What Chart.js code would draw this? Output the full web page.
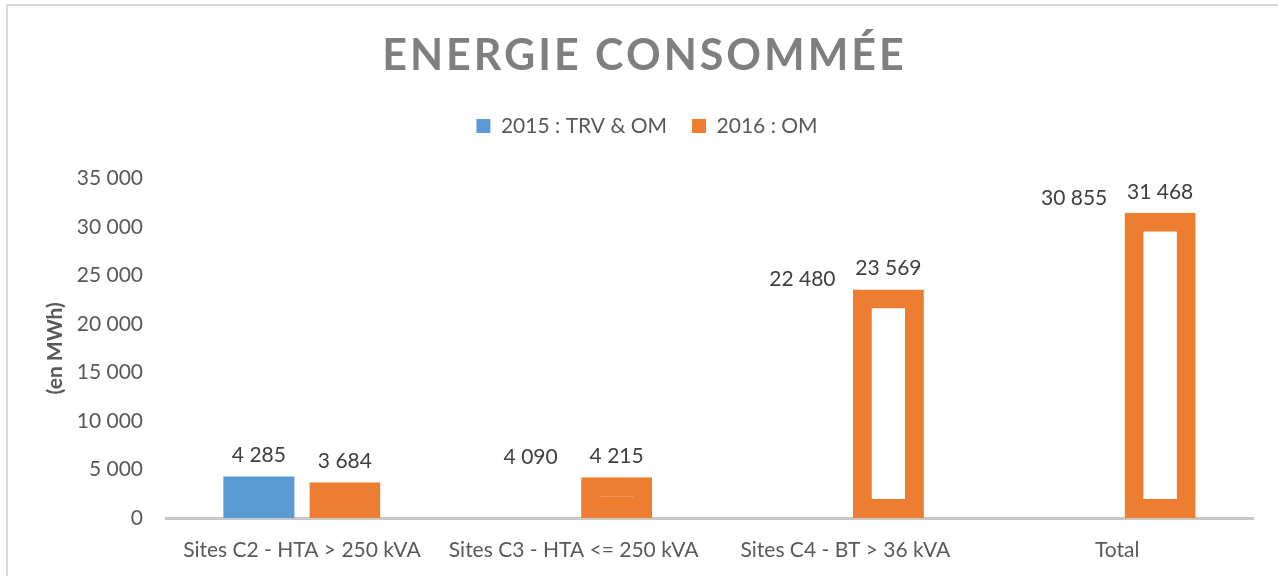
<!DOCTYPE html>
<html><head><meta charset="utf-8">
<script src="https://cdn.jsdelivr.net/npm/chart.js@4"></script>
<style>html,body{margin:0;padding:0;background:#fff;overflow:hidden}#wrap{position:absolute;left:0;top:0;width:1278px;height:576px}</style>
</head><body><div id="wrap"><canvas id="c" width="1278" height="576"></canvas></div>
<script>
const chartTitle = 'ENERGIE CONSOMMÉE';
const categories = ['Sites C2 - HTA > 250 kVA', 'Sites C3 - HTA <= 250 kVA', 'Sites C4 - BT > 36 kVA', 'Total'];
const seriesNames = ['2015 : TRV & OM', '2016 : OM'];
const values2015 = [4285, 4090, 22480, 30855];
const values2016 = [3684, 4215, 23569, 31468];
const yAxisTitle = '(en MWh)';
const yMin = 0, yMax = 35000, yStep = 5000;

const BLUE = '#5b9bd5', ORANGE = '#ed7d31', TXT = '#595959', FONT = 'Lato';
const fmt = v => String(v).replace(/\B(?=(\d{3})+(?!\d))/g, ' ');

const framePlugin = {
  id: 'frame',
  beforeDraw(chart) {
    const ctx = chart.ctx;
    ctx.save();
    ctx.strokeStyle = '#d9d9d9';
    ctx.lineWidth = 2;
    ctx.strokeRect(7, 5, 1400, 700);
    ctx.restore();
  }
};

const titlePlugin = {
  id: 'spacedTitle',
  afterDraw(chart) {
    const tb = chart.titleBlock;
    const o = chart.options.plugins.title;
    const ctx = chart.ctx;
    const sp = 3;
    ctx.save();
    ctx.font = `bold ${o.font.size}px ${FONT}`;
    ctx.fillStyle = '#7f7f7f';
    ctx.letterSpacing = sp + 'px';
    ctx.textAlign = 'left';
    ctx.textBaseline = 'middle';
    const w = ctx.measureText(o.text).width - sp;
    const y = tb.top + o.padding.top + o.font.size * o.font.lineHeight / 2;
    ctx.fillText(o.text, 643 - w / 2, y);
    ctx.restore();
  }
};

const labelPlugin = {
  id: 'valueLabels',
  afterDatasetsDraw(chart) {
    const ctx = chart.ctx;
    ctx.save();
    ctx.font = `21px ${FONT}`;
    ctx.fillStyle = '#404040';
    ctx.textAlign = 'center';
    ctx.textBaseline = 'alphabetic';
    chart.data.datasets.forEach((ds, di) => {
      const meta = chart.getDatasetMeta(di);
      meta.data.forEach((el, i) => {
        ctx.fillText(fmt(ds.data[i]), el.x, el.y - 14);
      });
    });
    ctx.restore();
  }
};

new Chart(document.getElementById('c'), {
  type: 'bar',
  data: {
    labels: categories,
    datasets: [
      {
        label: seriesNames[0],
        data: values2015,
        backgroundColor: [BLUE, 'rgba(0,0,0,0)', 'rgba(0,0,0,0)', 'rgba(0,0,0,0)'],
        borderWidth: 0,
        categoryPercentage: 0.633,
        barPercentage: 0.826
      },
      {
        label: seriesNames[1],
        data: values2016,
        backgroundColor: [ORANGE, ORANGE, '#ffffff', '#ffffff'],
        borderColor: ORANGE,
        borderWidth: 19,
        borderSkipped: false,
        categoryPercentage: 0.633,
        barPercentage: 0.826
      }
    ]
  },
  options: {
    responsive: false,
    animation: false,
    layout: { padding: { top: 0, left: 41, right: 25, bottom: 0 } },
    plugins: {
      title: {
        display: true,
        text: chartTitle,
        color: 'rgba(0,0,0,0)',
        font: { family: FONT, size: 43, weight: 'bold', lineHeight: 1.2 },
        padding: { top: 30, bottom: 9 }
      },
      subtitle: {
        display: true,
        text: ' ',
        color: 'rgba(0,0,0,0)',
        weight: 500,
        font: { size: 10, lineHeight: 1 },
        padding: { top: 22, bottom: 0 }
      },
      legend: {
        display: true,
        position: 'top',
        labels: {
          font: { family: FONT, size: 21 },
          color: TXT,
          boxWidth: 14,
          boxHeight: 14,
          padding: 25,
          generateLabels(chart) {
            return chart.data.datasets.map((ds, i) => ({
              text: ds.label,
              fillStyle: i === 0 ? BLUE : ORANGE,
              strokeStyle: i === 0 ? BLUE : ORANGE,
              lineWidth: 0,
              fontColor: TXT,
              datasetIndex: i,
              hidden: false
            }));
          }
        }
      },
      tooltip: { enabled: false }
    },
    scales: {
      x: {
        grid: { display: false, drawTicks: false },
        border: { display: true, color: '#c8c8c8', width: 3 },
        ticks: { color: TXT, font: { family: FONT, size: 21 }, padding: 20, maxRotation: 0 },
        afterFit(s) { s.height = 58; }
      },
      y: {
        min: yMin, max: yMax,
        grid: { display: false, drawTicks: false },
        border: { display: false },
        ticks: { stepSize: yStep, color: TXT, font: { family: FONT, size: 21 }, padding: 23, callback: v => fmt(v) },
        title: { display: true, text: yAxisTitle, color: TXT, font: { family: FONT, size: 21, weight: 'bold' }, padding: { top: 2, bottom: 0 } },
        afterFit(s) { s.width = 125; }
      }
    }
  },
  plugins: [framePlugin, titlePlugin, labelPlugin]
});
</script>
</body></html>
